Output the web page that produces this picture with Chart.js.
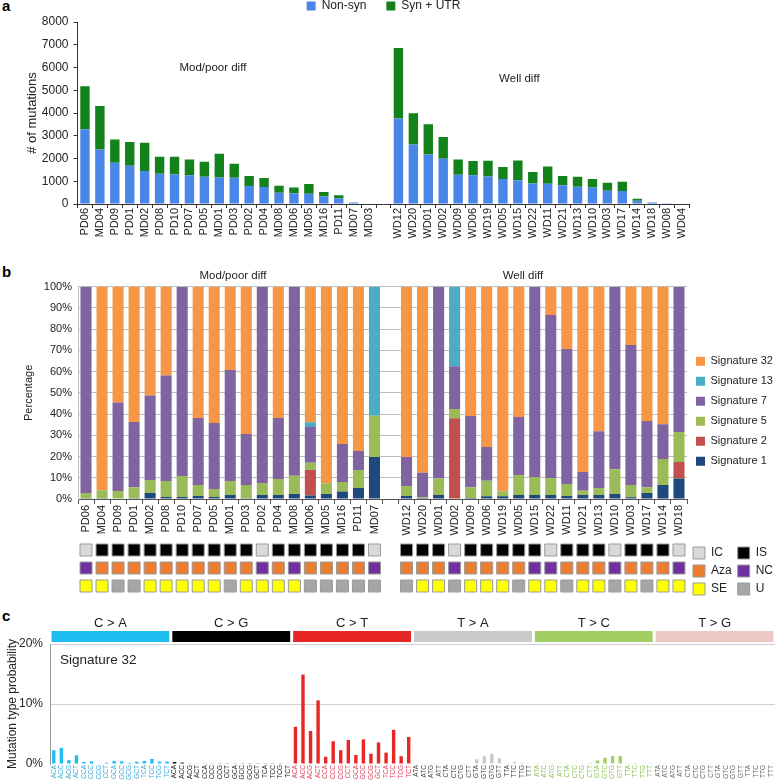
<!DOCTYPE html>
<html><head><meta charset="utf-8">
<script src="https://cdn.jsdelivr.net/npm/chart.js@4.4.1/dist/chart.umd.min.js"></script>
<style>
html,body{margin:0;padding:0;background:#fff;}
body{width:779px;height:783px;position:relative;overflow:hidden;font-family:"Liberation Sans",Arial,sans-serif;}
canvas{position:absolute;left:0;}
.pl{position:absolute;left:2px;font:bold 15px "Liberation Sans",Arial,sans-serif;color:#000;}
</style></head><body>
<div class="pl" style="top:-3px">a</div>
<div class="pl" style="top:263px">b</div>
<div class="pl" style="top:607px">c</div>
<canvas id="ca" width="779" height="244" style="top:0"></canvas>
<canvas id="cb" width="779" height="266" style="top:270px"></canvas>
<canvas id="cann" width="779" height="68" style="top:536px"></canvas>
<canvas id="cc" width="779" height="177" style="top:606px"></canvas>
<script>
// ---------- Panel a data ----------
const modSamplesA = ['PD06','MD04','PD09','PD01','MD02','PD08','PD10','PD07','PD05','MD01','PD03','PD02','PD04','MD08','MD06','MD05','MD16','PD11','MD07','MD03'];
const wellSamplesA = ['WD12','WD20','WD01','WD02','WD09','WD06','WD19','WD05','WD15','WD22','WD11','WD21','WD13','WD10','WD03','WD17','WD14','WD18','WD08','WD04'];
const modNonSyn = [3290,2400,1815,1680,1450,1330,1300,1260,1200,1170,1155,790,750,500,470,455,335,250,70,0];
const modSynUtr = [1885,1910,1025,1040,1240,745,775,700,660,1040,615,440,390,305,260,425,190,130,0,0];
const wellNonSyn = [3760,2620,2180,1990,1290,1260,1210,1100,1040,905,890,820,760,730,585,570,145,70,30,0];
const wellSynUtr = [3100,1370,1330,950,670,625,690,525,875,500,760,410,440,365,350,410,90,0,0,0];

// ---------- Panel b data (percent of signature, bottom to top) ----------
const modSamplesB = ['PD06','MD04','PD09','PD01','MD02','PD08','PD10','PD07','PD05','MD01','PD03','PD02','PD04','MD08','MD06','MD05','MD16','PD11','MD07'];
const wellSamplesB = ['WD12','WD20','WD01','WD02','WD09','WD06','WD19','WD05','WD15','WD22','WD11','WD21','WD13','WD10','WD03','WD17','WD14','WD18'];
// first 19 values: Mod/poor diff samples, last 18: Well diff samples
const sig1  = [0.3,0.3,0.2,0.4,2.8,1.0,1.0,1.4,1.0,1.9,0.4,1.9,1.9,2.4,1.7,2.4,3.5,5.2,19.8, 1.4,0.5,1.9,0,0.5,1.3,1.3,1.9,1.9,1.9,1.4,1.9,1.9,2.4,0.8,2.8,6.6,9.7];
const sig2  = [0,0,0,0,0,0,0,0,0,0,0,0,0,0,12.0,0,0,0,0, 0,0,0,38.0,0,0,0,0,0,0,0,0,0,0,0,0,0,7.7];
const sig5  = [2.5,3.8,3.6,5.1,6.2,7.5,9.8,5.2,3.7,6.6,6.2,5.6,7.5,8.6,3.4,5.0,4.5,8.5,19.4, 4.7,0.3,7.8,4.4,5.0,7.3,2.3,9.4,8.3,8.0,5.7,2.0,3.3,11.6,5.8,2.7,12.2,14.2];
const sig7  = [97.2,0,41.7,30.8,39.8,49.7,89.2,31.5,31.1,52.3,24.0,92.5,28.7,89.0,16.8,0,17.9,8.9,0, 13.7,11.6,90.3,20.1,33.6,15.9,0,27.3,89.8,76.8,63.5,8.8,26.7,86.0,65.9,31.2,16.4,68.4];
const sig13 = [0,0,0,0,0,0,0,0,0,0,0,0,0,0,2.2,0,0,0,60.8, 0,0,0,37.5,0,0,0,0,0,0,0,0,0,0,0,0,0,0];
const sig32 = [0,95.9,54.5,63.7,51.2,41.8,0,61.9,64.2,39.2,69.4,0,61.9,0,63.9,92.6,74.1,77.4,0, 80.2,87.6,0,0,60.9,75.5,96.4,61.4,0,13.3,29.4,87.3,68.1,0,27.5,63.3,64.8,0];

// ---------- Sample annotations ----------
const histology = ['IC','IS','IS','IS','IS','IS','IS','IS','IS','IS','IS','IC','IS','IS','IS','IS','IS','IS','IC', 'IS','IS','IS','IC','IS','IS','IS','IS','IS','IC','IS','IS','IS','IC','IS','IS','IS','IC'];
const treatment = ['NC','Aza','Aza','Aza','Aza','Aza','Aza','Aza','Aza','Aza','Aza','NC','Aza','NC','Aza','Aza','Aza','Aza','NC', 'Aza','Aza','Aza','NC','Aza','Aza','Aza','Aza','NC','NC','Aza','Aza','Aza','NC','Aza','Aza','Aza','NC'];
const response  = ['SE','SE','U','U','SE','SE','SE','SE','SE','U','SE','SE','SE','SE','U','U','U','U','U', 'U','SE','SE','U','SE','SE','SE','U','SE','SE','U','SE','SE','U','SE','U','SE','SE'];

// ---------- Panel c data (Signature 32, %) ----------
const substitutionTypes = ['C > A','C > G','C > T','T > A','T > C','T > G'];
const contextsC = ['ACA','ACC','ACG','ACT','CCA','CCC','CCG','CCT','GCA','GCC','GCG','GCT','TCA','TCC','TCG','TCT'];
const contextsT = ['ATA','ATC','ATG','ATT','CTA','CTC','CTG','CTT','GTA','GTC','GTG','GTT','TTA','TTC','TTG','TTT'];
const sigCA = [2.3,2.7,0.65,1.45,0.33,0.45,0.1,0.22,0.5,0.45,0.17,0.38,0.52,0.84,0.4,0.4];
const sigCG = [0.33,0.22,0.1,0.1,0.06,0.06,0.05,0.05,0.1,0.05,0.05,0.05,0.05,0.05,0.05,0.1];
const sigCT = [6.2,14.9,5.5,10.6,1.2,3.8,2.3,4.0,1.5,4.1,1.7,3.6,1.9,5.7,1.3,4.5];
const sigTA = [0.05,0.05,0.05,0.05,0.05,0.1,0.05,0.1,0.8,1.3,1.7,0.95,0.1,0.3,0.2,0.1];
const sigTC = [0.05,0.05,0.05,0.05,0.05,0.05,0.1,0.15,0.6,1.05,1.3,1.3,0.05,0.15,0.1,0.05];
const sigTG = [0.05,0.05,0.05,0.05,0.05,0.05,0.05,0.05,0.05,0.05,0.05,0.05,0.05,0.05,0.05,0.05];

// ---------- styling ----------
const FONT = '"Liberation Sans", Arial, Helvetica, sans-serif';
Chart.defaults.font.family = FONT;
Chart.defaults.color = '#222';
Chart.defaults.animation = false;

const notesPlugin = {
  id: 'notes',
  afterDraw(chart, args, opts) {
    const ctx = chart.ctx;
    (opts.items || []).forEach(it => {
      const x = chart.scales.x.getPixelForValue(it.x);
      const y = (it.y !== undefined) ? chart.scales.y.getPixelForValue(it.y) : chart.chartArea.top + it.dy;
      ctx.save();
      ctx.font = it.font; ctx.fillStyle = it.color || '#222';
      ctx.textAlign = it.align || 'center'; ctx.textBaseline = 'middle';
      ctx.fillText(it.text, x, y);
      ctx.restore();
    });
  }
};

// ---------- Panel a ----------
const labelsA = [...modSamplesA, '', ...wellSamplesA];
const chartA = new Chart(document.getElementById('ca'), {
  type: 'bar',
  data: { labels: labelsA, datasets: [
    { label: 'Non-syn', data: [...modNonSyn, null, ...wellNonSyn], backgroundColor: '#4a86e8', stack: 's' },
    { label: 'Syn + UTR', data: [...modSynUtr, null, ...wellSynUtr], backgroundColor: '#13821a', stack: 's' }
  ]},
  options: {
    responsive: false, devicePixelRatio: 1,
    layout: { padding: { top: -20, left: 0, right: 89.5, bottom: 0 } },
    datasets: { bar: { barPercentage: 0.63, categoryPercentage: 1 } },
    plugins: {
      legend: { position: 'top', fullSize: false, labels: { boxWidth: 9, boxHeight: 9, padding: 20, font: { size: 12 }, color: '#222' } },
      tooltip: { enabled: false },
      notes: { items: [
        { text: 'Mod/poor diff', x: 8.57, y: 6000, font: '11.5px ' + FONT },
        { text: 'Well diff', x: 29.1, y: 5500, font: '11.5px ' + FONT }
      ]}
    },
    scales: {
      x: { stacked: true, grid: { drawOnChartArea: false, tickLength: 4, color: '#333' }, border: { color: '#333' },
           ticks: { maxRotation: 90, minRotation: 90, autoSkip: false, padding: 0, font: { size: 11 }, color: '#222' },
           afterFit: s => { s.height = 40; } },
      y: { stacked: true, min: 0, max: 8000,
           ticks: { stepSize: 1000, callback: v => String(v), font: { size: 12 }, padding: 5, color: '#222' },
           grid: { drawOnChartArea: false, tickLength: 4, color: '#333' }, border: { color: '#333' },
           title: { display: true, text: '# of mutations', font: { size: 13 }, color: '#222', padding: { top: 25, bottom: 0 } },
           afterFit: s => { s.width = 77.5; } }
    }
  },
  plugins: [notesPlugin]
});

// ---------- Panel b ----------
const labelsB = [...modSamplesB, '', ...wellSamplesB];
const withGapB = arr => [...arr.slice(0, 19), null, ...arr.slice(19)];
const sigDefs = [
  ['Signature 1', sig1, '#1f497d'],
  ['Signature 2', sig2, '#c0504d'],
  ['Signature 5', sig5, '#9bbb59'],
  ['Signature 7', sig7, '#8064a2'],
  ['Signature 13', sig13, '#4bacc6'],
  ['Signature 32', sig32, '#f79646']
];
const chartB = new Chart(document.getElementById('cb'), {
  type: 'bar',
  data: { labels: labelsB, datasets: sigDefs.map(([l, d, c]) => ({ label: l, data: withGapB(d), backgroundColor: c, stack: 's' })) },
  options: {
    responsive: false, devicePixelRatio: 1,
    layout: { padding: { top: 16.7, left: 0, right: 0, bottom: 0 } },
    datasets: { bar: { barPercentage: 0.69, categoryPercentage: 1 } },
    plugins: {
      legend: { position: 'right', reverse: true, maxWidth: 92,
        labels: { boxWidth: 9, boxHeight: 9, padding: 9, font: { size: 11 }, color: '#222' } },
      tooltip: { enabled: false },
      notes: { items: [
        { text: 'Mod/poor diff', x: 9.17, dy: -10.7, font: '11.5px ' + FONT },
        { text: 'Well diff', x: 27.26, dy: -10.7, font: '11.5px ' + FONT }
      ]}
    },
    scales: {
      x: { stacked: true, grid: { drawOnChartArea: false, tickLength: 5, color: '#555' }, border: { color: '#555' },
           ticks: { maxRotation: 90, minRotation: 90, autoSkip: false, padding: 1, font: { size: 11 }, color: '#222' },
           afterFit: s => { s.height = 37; } },
      y: { stacked: true, min: 0, max: 100,
           ticks: { stepSize: 10, callback: v => v + '%', font: { size: 11 }, padding: 6, color: '#222' },
           grid: { drawTicks: false, color: '#bdbdbd' }, border: { color: '#bdbdbd' },
           title: { display: true, text: 'Percentage', font: { size: 11 }, color: '#222', padding: { top: 22, bottom: 0 } },
           afterFit: s => { s.width = 78; } }
    }
  },
  plugins: [notesPlugin]
});

// ---------- Annotation cells ----------
const statusColors = { IC: '#d9d9d9', IS: '#000000', Aza: '#ed7d31', NC: '#7030a0', SE: '#ffff00', U: '#a6a6a6' };
const annRows = [histology, treatment, response];
const annOrder = [['IC', 0], ['Aza', 1], ['SE', 2], ['IS', 0], ['NC', 1], ['U', 2]];
const chartAnn = new Chart(document.getElementById('cann'), {
  type: 'line',
  data: { labels: labelsB, datasets: annOrder.map(([key, row]) => ({
    label: key, data: withGapB(annRows[row].map(v => v === key ? row : null)),
    showLine: false, pointStyle: 'rect', pointRadius: 8.5, pointHoverRadius: 8.5,
    backgroundColor: statusColors[key], borderColor: '#9a9a9a', borderWidth: 1, pointBorderWidth: 1
  })) },
  options: {
    responsive: false, devicePixelRatio: 1,
    layout: { autoPadding: false, padding: { top: 2, left: 78, right: 0, bottom: 0 } },
    plugins: {
      legend: { position: 'right', maxWidth: 92, labels: { boxWidth: 12, boxHeight: 12, padding: 6, font: { size: 12 }, color: '#222' } },
      tooltip: { enabled: false }
    },
    scales: {
      x: { display: false, offset: true },
      y: { display: false, min: -0.6667, max: 3.0, reverse: true }
    }
  }
});

// ---------- Panel c ----------
const groupColors = ['#1ebff0', '#000000', '#e62725', '#cbcacb', '#a1cf64', '#edc8c5'];
const labelColors = ['#3aa9d8', '#222222', '#e0405a', '#444444', '#8cbf55', '#666666'];
const labelsC = [contextsC, contextsC, contextsC, contextsT, contextsT, contextsT].flat();
const valuesC = [sigCA, sigCG, sigCT, sigTA, sigTC, sigTG].flat();
const barColorsC = labelsC.map((_, i) => groupColors[Math.floor(i / 16)]);
const headerPlugin = {
  id: 'header',
  afterDraw(chart) {
    const { ctx, chartArea } = chart; const xs = chart.scales.x;
    substitutionTypes.forEach((t, g) => {
      const x0 = xs.getPixelForValue(16 * g - 0.5) + 1.5;
      const x1 = xs.getPixelForValue(16 * g + 15.5) - 1.5;
      ctx.save();
      ctx.fillStyle = groupColors[g];
      ctx.fillRect(x0, chartArea.top - 13, x1 - x0, 11);
      ctx.fillStyle = '#222'; ctx.font = '13px ' + FONT; ctx.textAlign = 'center'; ctx.textBaseline = 'middle';
      ctx.fillText(t, (x0 + x1) / 2, chartArea.top - 21);
      ctx.restore();
    });
    ctx.save();
    ctx.fillStyle = '#222'; ctx.font = '13.5px ' + FONT; ctx.textAlign = 'left'; ctx.textBaseline = 'middle';
    ctx.fillText('Signature 32', chartArea.left + 10, chart.scales.y.getPixelForValue(17.3));
    ctx.restore();
  }
};
const chartC = new Chart(document.getElementById('cc'), {
  type: 'bar',
  data: { labels: labelsC, datasets: [{ label: 'Signature 32', data: valuesC, backgroundColor: barColorsC, barPercentage: 0.45, categoryPercentage: 1 }] },
  options: {
    responsive: false, devicePixelRatio: 1,
    layout: { padding: { top: 38, left: 0, right: 4, bottom: 0 } },
    plugins: { legend: { display: false }, tooltip: { enabled: false } },
    scales: {
      x: { grid: { display: true, drawOnChartArea: false, drawTicks: false, tickLength: 0 }, border: { display: false },
           ticks: { autoSkip: false, maxRotation: 90, minRotation: 90, padding: 1, font: { size: 6.5 }, color: c => labelColors[Math.floor(c.index / 16)] },
           afterFit: s => { s.height = 19; s.paddingLeft = 0; s.paddingRight = 0; } },
      y: { min: 0, max: 20,
           ticks: { stepSize: 10, callback: v => v + '%', font: { size: 12 }, padding: 7, color: '#222' },
           grid: { drawTicks: false, color: c => (c.tick && c.tick.value === 0) ? 'rgba(0,0,0,0)' : '#d0d0d0' },
           border: { color: '#999' },
           title: { display: true, text: 'Mutation type probability', font: { size: 12 }, color: '#222', padding: { top: 5, bottom: 0 } },
           afterFit: s => { s.width = 50; } }
    }
  },
  plugins: [headerPlugin]
});
</script>
</body></html>
